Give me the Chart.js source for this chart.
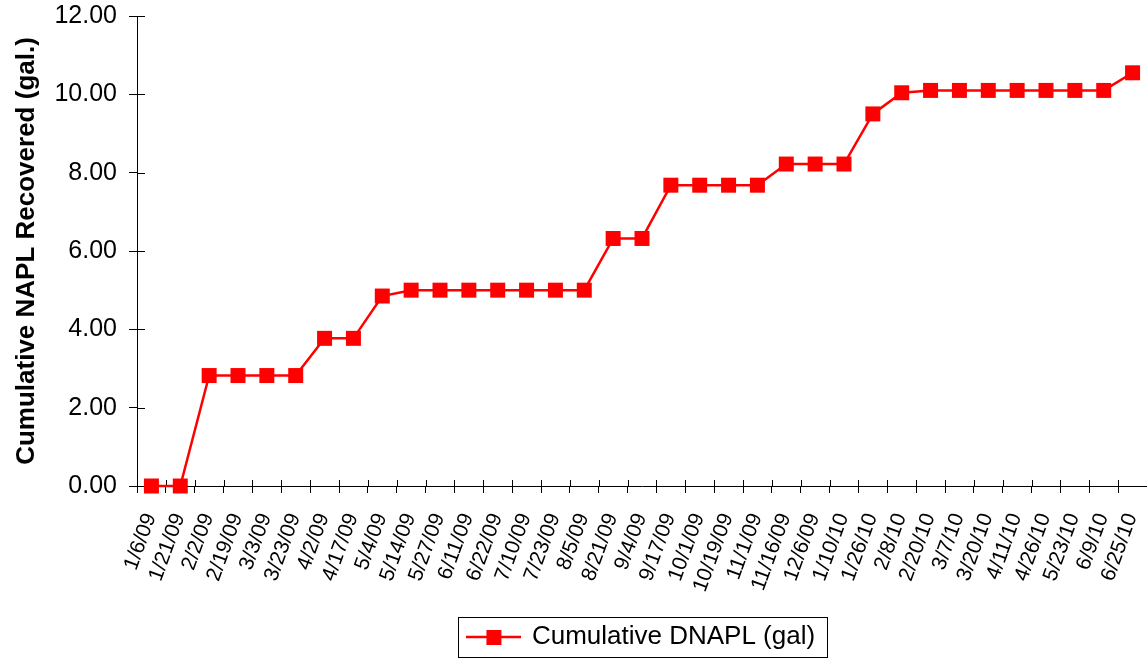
<!DOCTYPE html>
<html>
<head>
<meta charset="utf-8">
<title>Cumulative DNAPL Recovered</title>
<script src="https://cdn.jsdelivr.net/npm/chart.js@4/dist/chart.umd.min.js"></script>
<style>
  html, body { margin: 0; padding: 0; background: #fff; }
  #wrap { width: 1147px; height: 660px; }
</style>
</head>
<body>
<div id="wrap"><canvas id="chart" width="1147" height="660"></canvas></div>
<script>
"use strict";

const dates = [
    '1/6/09', '1/21/09', '2/2/09', '2/19/09', '3/3/09', '3/23/09', '4/2/09', '4/17/09',
    '5/4/09', '5/14/09', '5/27/09', '6/11/09', '6/22/09', '7/10/09', '7/23/09', '8/5/09',
    '8/21/09', '9/4/09', '9/17/09', '10/1/09', '10/19/09', '11/1/09', '11/16/09', '12/6/09',
    '1/10/10', '1/26/10', '2/8/10', '2/20/10', '3/7/10', '3/20/10', '4/11/10', '4/26/10',
    '5/23/10', '6/9/10', '6/25/10'
];
const cumulativeDnapl = [
    0, 0, 2.82, 2.82, 2.82, 2.82, 3.77, 3.77,
    4.85, 5.0, 5.0, 5.0, 5.0, 5.0, 5.0, 5.0,
    6.32, 6.32, 7.68, 7.68, 7.68, 7.68, 8.22, 8.22,
    8.22, 9.5, 10.04, 10.1, 10.1, 10.1, 10.1, 10.1,
    10.1, 10.1, 10.55
];
const yTicks = [0, 2, 4, 6, 8, 10, 12];

const RED = '#ff0000';
const FONT = "'Liberation Sans', Arial, Helvetica, sans-serif";

// legend glyph: short line with a square marker on it
function makeLegendGlyph() {
    const c = document.createElement('canvas');
    c.width = 55;
    c.height = 16;
    const g = c.getContext('2d');
    g.strokeStyle = RED;
    g.lineWidth = 2.5;
    g.beginPath();
    g.moveTo(0, 8);
    g.lineTo(55, 8);
    g.stroke();
    g.fillStyle = RED;
    g.fillRect(20, 1, 15, 15);
    return c;
}
const legendGlyph = makeLegendGlyph();

// ticks that cross the axis lines (Chart.js only draws the outer half)
const crossTicks = {
    id: 'crossTicks',
    beforeDatasetsDraw(chart) {
        const ctx = chart.ctx;
        const x = chart.scales.x;
        const y = chart.scales.y;
        ctx.save();
        ctx.strokeStyle = '#000';
        ctx.lineWidth = 1;
        ctx.beginPath();
        for (let i = 0; i <= dates.length; i++) {
            const px = Math.round(x.getPixelForValue(i - 0.5)) + 0.5;
            ctx.moveTo(px, y.bottom - 6);
            ctx.lineTo(px, y.bottom);
        }
        yTicks.forEach(v => {
            const py = Math.round(y.getPixelForValue(v)) + 0.5;
            ctx.moveTo(x.left, py);
            ctx.lineTo(x.left + 8, py);
        });
        ctx.stroke();
        ctx.restore();
    }
};

// frame around the legend
const legendFrame = {
    id: 'legendFrame',
    afterDraw(chart) {
        const hit = chart.legend.legendHitBoxes[0];
        if (!hit) return;
        const ctx = chart.ctx;
        const cy = hit.top + hit.height / 2;
        const left = Math.round(hit.left - 11) + 0.5;
        const right = Math.round(hit.left + hit.width + 12) + 0.5;
        ctx.save();
        ctx.strokeStyle = '#000';
        ctx.lineWidth = 1;
        ctx.strokeRect(left, Math.round(cy - 20) + 0.5, right - left, 40);
        ctx.restore();
    }
};

new Chart(document.getElementById('chart'), {
    type: 'line',
    data: {
        labels: dates,
        datasets: [{
            label: 'Cumulative DNAPL (gal)',
            data: cumulativeDnapl,
            borderColor: RED,
            backgroundColor: RED,
            borderWidth: 2.5,
            pointStyle: 'rect',
            pointRadius: 10.6,
            pointHoverRadius: 10.6,
            pointBackgroundColor: RED,
            pointBorderColor: RED,
            pointBorderWidth: 0,
            tension: 0,
            clip: false
        }]
    },
    options: {
        responsive: false,
        animation: false,
        devicePixelRatio: 1,
        layout: { autoPadding: false, padding: { top: 16, right: 0, bottom: 0, left: 0 } },
        plugins: {
            tooltip: { enabled: false },
            legend: {
                position: 'bottom',
                fullSize: false,
                labels: {
                    color: '#000',
                    font: { family: FONT, size: 26 },
                    usePointStyle: true,
                    pointStyleWidth: 50,
                    padding: 10,
                    generateLabels(chart) {
                        return Chart.defaults.plugins.legend.labels.generateLabels(chart)
                            .map(item => Object.assign(item, { pointStyle: legendGlyph }));
                    }
                }
            }
        },
        scales: {
            x: {
                type: 'category',
                offset: true,
                grid: {
                    offset: true,
                    drawOnChartArea: false,
                    drawTicks: true,
                    tickLength: 7,
                    tickColor: '#000'
                },
                border: { display: true, color: '#000', width: 1 },
                ticks: {
                    color: '#000',
                    font: { family: FONT, size: 21 },
                    minRotation: 70,
                    maxRotation: 70,
                    autoSkip: false,
                    padding: 17,
                    labelOffset: -1
                },
                afterFit(scale) {
                    scale.height = 128;
                    scale.paddingLeft = 0;
                    scale.paddingRight = 0;
                }
            },
            y: {
                min: 0,
                max: 12,
                afterBuildTicks(scale) { scale.ticks = yTicks.map(v => ({ value: v })); },
                grid: {
                    drawOnChartArea: false,
                    drawTicks: true,
                    tickLength: 8,
                    tickColor: '#000'
                },
                border: { display: true, color: '#000', width: 1 },
                ticks: {
                    color: '#000',
                    font: { family: FONT, size: 25 },
                    padding: 12,
                    callback: v => Number(v).toFixed(2)
                },
                title: {
                    display: true,
                    text: 'Cumulative NAPL Recovered (gal.)',
                    color: '#000',
                    font: { family: FONT, size: 26, weight: 'bold' },
                    padding: { top: 11, bottom: 0 }
                },
                afterFit(scale) {
                    scale.width = 137;
                    scale.paddingTop = 0;
                    scale.paddingBottom = 0;
                }
            }
        }
    },
    plugins: [crossTicks, legendFrame]
});
</script>
</body>
</html>
